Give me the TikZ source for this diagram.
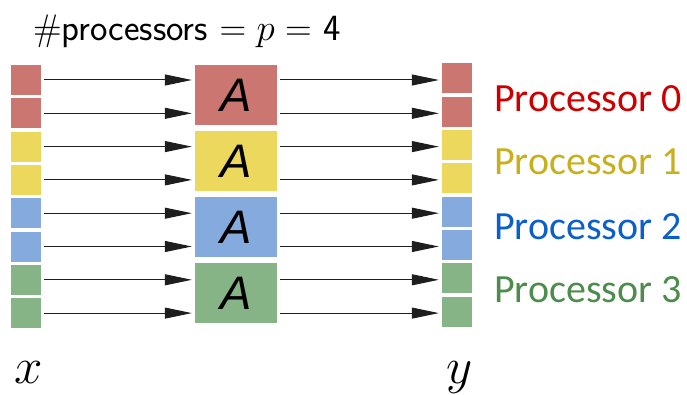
\RequirePackage{fix-cm}
\documentclass[tikz,border=0pt]{standalone}
\usepackage{fontspec}
\usetikzlibrary{arrows.meta,calc}
\newfontfamily\carlito{Carlito}
\newfontfamily\libsans{Liberation Sans}
\definecolor{cred}{RGB}{204,118,114}
\definecolor{cyel}{RGB}{235,216,92}
\definecolor{cblu}{RGB}{132,170,222}
\definecolor{cgrn}{RGB}{134,180,134}
\definecolor{tred}{RGB}{204,0,0}
\definecolor{tyel}{RGB}{200,176,28}
\definecolor{tblu}{RGB}{11,95,204}
\definecolor{tgrn}{RGB}{78,140,78}
\definecolor{arr}{RGB}{30,30,30}
\tikzset{
  sq/.style={draw=none, minimum width=30pt, minimum height=30pt, inner sep=0pt},
  mbox/.style={draw=none, minimum width=82pt, minimum height=60pt, inner sep=0pt, font=\libsans\itshape\fontsize{47}{47}\selectfont},
  con/.style={draw=arr, line width=1pt, -{Triangle[length=27pt,width=11pt]}, shorten <=3pt, shorten >=3pt},
  plabel/.style={anchor=base west, inner sep=0pt, font=\carlito\fontsize{40}{40}\selectfont},
}
\begin{document}
\begin{tikzpicture}[x=1pt,y=-1pt]
\useasboundingbox (0,0) rectangle (687,395);
\node[anchor=base west, inner sep=0pt, font=\sffamily\fontsize{37}{37}\selectfont] (title) at (33,41) {$\#$processors $=p=$ 4};
% left and right squares
\foreach \i/\c in {0/cred,1/cred,2/cyel,3/cyel,4/cblu,5/cblu,6/cgrn,7/cgrn}{
  \node[sq, fill=\c] (L\i) at (26, {80+33.3*\i}) {};
  \node[sq, fill=\c] (R\i) at (457, {78.5+33.3*\i}) {};
}
% middle boxes
\foreach \j/\c in {0/cred,1/cyel,2/cblu,3/cgrn}{
  \node[mbox, fill=\c] (M\j) at (236, {95+66*\j}) {A};
}
% connectors
\foreach \i/\j in {0/0,1/0,2/1,3/1,4/2,5/2,6/3,7/3}{
  \draw[con] (L\i.east) -- (L\i.east -| M\j.west);
  \draw[con] (L\i.east -| M\j.east) -- (L\i.east -| R\i.west);
}
\node[plabel, text=tred] (p0) at (494,112) {Processor 0};
\node[plabel, text=tyel] (p1) at (494,175) {Processor 1};
\node[plabel, text=tblu] (p2) at (494,239) {Processor 2};
\node[plabel, text=tgrn] (p3) at (494,302) {Processor 3};
\node[anchor=base, inner sep=0pt, font=\fontsize{51}{51}\selectfont] (xl) at (29,383) {$x$};
\node[anchor=base, inner sep=0pt, font=\fontsize{51}{51}\selectfont] (yl) at (460,383) {$y$};
\end{tikzpicture}
\end{document}
